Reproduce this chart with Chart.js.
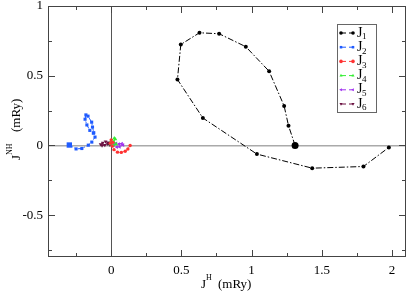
<!DOCTYPE html>
<html>
<head>
<meta charset="utf-8">
<script src="https://cdn.jsdelivr.net/npm/chart.js@4/dist/chart.umd.min.js"></script>
<style>
  html, body { margin: 0; padding: 0; background: #fff; }
  canvas { display: block; }
</style>
</head>
<body>
<canvas id="myChart" width="415" height="297"></canvas>
<script>
// series data (mRy)
var j1x = [1.31, 1.263, 1.232, 1.125, 0.959, 0.769, 0.629, 0.496, 0.472, 0.653, 1.038, 1.432, 1.797, 1.978];
var j1y = [0.0, 0.142, 0.283, 0.532, 0.708, 0.801, 0.808, 0.724, 0.473, 0.197, -0.062, -0.163, -0.151, -0.014];

var j2x = [-0.298, -0.25, -0.209, -0.163, -0.138, -0.115, -0.124, -0.133, -0.139, -0.165, -0.18, -0.186, -0.173, -0.152, -0.127];
var j2y = [0.003, -0.025, -0.022, 0.002, 0.024, 0.06, 0.091, 0.132, 0.167, 0.21, 0.219, 0.188, 0.147, 0.108, 0.088];

var j3x = [-0.005, 0.0, 0.012, 0.008, 0.02, 0.045, 0.072, 0.1, 0.119, 0.135];
var j3y = [0.015, 0.04, 0.022, -0.005, -0.03, -0.048, -0.05, -0.042, -0.025, 0.0];

var j4x = [0.018, 0.03, 0.022, 0.0, -0.004, 0.015, 0.035];
var j4y = [0.025, 0.045, 0.052, 0.035, 0.01, 0.0, 0.01];

var j5x = [0.02, 0.035, 0.055, 0.075, 0.085, 0.06, 0.04];
var j5y = [0.005, 0.015, 0.01, 0.012, 0.003, -0.01, -0.012];

var j6x = [-0.02, -0.04, -0.06, -0.075, -0.065, -0.045, -0.025, -0.01];
var j6y = [0.02, 0.028, 0.018, 0.008, 0.0, 0.003, 0.012, 0.005];

var labels = ['1', '2', '3', '4', '5', '6'];
var colors = ['#000000', '#1f5bff', '#ff3333', '#33ee33', '#a030f0', '#6a1040'];
var xTicks = [0, 0.5, 1, 1.5, 2];
var yTicks = [-0.5, 0, 0.5, 1];

function pts(xs, ys) {
  var out = [];
  for (var i = 0; i < xs.length; i++) out.push({ x: xs[i], y: ys[i] });
  return out;
}

var serif = '"Liberation Serif", "Times New Roman", serif';

function isMajor(v) {
  return Math.abs(v * 2 - Math.round(v * 2)) < 1e-6;
}

function bigFirst(r0, r) {
  return function (ctx) { return ctx.dataIndex === 0 ? r0 : r; };
}

var styles = [
  { style: 'circle', rot: 0, dash: [6, 2, 1.5, 2], r0: 3.5, r: 2 },
  { style: 'rect', rot: 0, dash: [4, 2, 1.5, 2], r0: 3.8, r: 2.2 },
  { style: 'circle', rot: 0, dash: [2.5, 2], r0: 1.8, r: 1.7 },
  { style: 'triangle', rot: 0, dash: [3, 2], r0: 2.4, r: 2.2 },
  { style: 'triangle', rot: -90, dash: [3, 2], r0: 2.4, r: 2.2 },
  { style: 'triangle', rot: 180, dash: [3, 2], r0: 2.4, r: 2.2 }
];

var series = [pts(j1x, j1y), pts(j2x, j2y), pts(j3x, j3y), pts(j4x, j4y), pts(j5x, j5y), pts(j6x, j6y)];

var datasets = series.map(function (d, i) {
  var s = styles[i];
  return {
    label: 'J' + labels[i],
    data: d,
    showLine: true,
    borderColor: colors[i],
    backgroundColor: colors[i],
    borderWidth: 1,
    borderDash: s.dash,
    pointStyle: s.style,
    rotation: s.rot,
    pointRadius: bigFirst(s.r0, s.r),
    pointBorderWidth: 0,
    tension: 0
  };
});

// frame, inward ticks, legend box and axis titles
var decorations = {
  id: 'decorations',
  afterDraw: function (chart) {
    var c = chart.ctx;
    var a = chart.chartArea;
    var xs = chart.scales.x, ys = chart.scales.y;
    c.save();
    c.strokeStyle = '#444';
    c.lineWidth = 1;
    c.strokeRect(a.left + 0.5, a.top + 0.5, a.right - a.left - 1, a.bottom - a.top - 1);

    c.beginPath();
    xs.ticks.forEach(function (t) {
      var v = t.value;
      var px = Math.round(xs.getPixelForValue(v)) + 0.5;
      var len = isMajor(v) ? 7 : 4;
      c.moveTo(px, a.bottom); c.lineTo(px, a.bottom - len);
      c.moveTo(px, a.top); c.lineTo(px, a.top + len);
    });
    ys.ticks.forEach(function (t) {
      var v = t.value;
      var py = Math.round(ys.getPixelForValue(v)) + 0.5;
      var len = isMajor(v) ? 7 : 4;
      c.moveTo(a.left, py); c.lineTo(a.left + len, py);
      c.moveTo(a.right, py); c.lineTo(a.right - len, py);
    });
    c.stroke();

    // legend
    var lx = 337, ly = 24, lw = 39, lh = 88;
    c.fillStyle = '#fff';
    c.fillRect(lx, ly, lw, lh);
    c.strokeStyle = '#666';
    c.strokeRect(lx + 0.5, ly + 0.5, lw, lh);
    chart.data.datasets.forEach(function (ds, i) {
      var y = 33 + i * 14.2;
      var s = styles[i];
      c.strokeStyle = colors[i];
      c.fillStyle = colors[i];
      c.lineWidth = 1;
      c.setLineDash([5, 3]);
      c.beginPath();
      c.moveTo(341, y); c.lineTo(353, y);
      c.stroke();
      c.setLineDash([]);
      Chart.helpers.drawPoint(c, { pointStyle: s.style, rotation: s.rot, radius: 1.8, borderWidth: 0 }, 341, y);
      Chart.helpers.drawPoint(c, { pointStyle: s.style, rotation: s.rot, radius: 1.8, borderWidth: 0 }, 353, y);
      c.fillStyle = '#000';
      c.textBaseline = 'middle';
      c.textAlign = 'left';
      c.font = '14px ' + serif;
      c.fillText('J', 357, y);
      c.font = '9px ' + serif;
      c.fillText(labels[i], 362, y + 4);
    });

    // x title
    c.fillStyle = '#000';
    c.textBaseline = 'alphabetic';
    c.textAlign = 'left';
    var bx = 201, by = 288;
    c.font = '13px ' + serif;
    c.fillText('J', bx, by);
    c.font = '8px ' + serif;
    c.fillText('H', bx + 5, by - 8);
    c.font = '13px ' + serif;
    c.fillText('(mRy)', 218, by);

    // y title
    c.translate(20, 132);
    c.rotate(-Math.PI / 2);
    c.font = '13px ' + serif;
    c.fillText('J', -28, 0);
    c.font = '8px ' + serif;
    c.fillText('NH', -23, -8);
    c.font = '13px ' + serif;
    c.fillText('(mRy)', 0, 0);
    c.restore();
  }
};

var myChart = new Chart(document.getElementById('myChart'), {
  type: 'scatter',
  data: { datasets: datasets },
  options: {
    responsive: false,
    animation: false,
    devicePixelRatio: 1,
    layout: { padding: { top: 6, right: 9, left: 0, bottom: 0 } },
    plugins: {
      legend: { display: false },
      tooltip: { enabled: false }
    },
    scales: {
      x: {
        type: 'linear',
        min: -0.45,
        max: 2.1,
        border: { display: false },
        grid: {
          drawTicks: false,
          color: function (ctx) { return ctx.tick && ctx.tick.value === 0 ? '#555' : 'rgba(0,0,0,0)'; },
          lineWidth: 1
        },
        ticks: {
          stepSize: 0.25,
          includeBounds: false,
          padding: 6,
          color: '#000',
          maxRotation: 0,
          autoSkip: false,
          font: { family: serif, size: 13 },
          callback: function (v) { var r = Math.round(v * 100) / 100; return xTicks.indexOf(r) >= 0 ? String(r) : ''; }
        },
        afterFit: function (s) { s.height = 40; s.paddingLeft = 0; s.paddingRight = 0; }
      },
      y: {
        type: 'linear',
        min: -0.8,
        max: 1,
        border: { display: false },
        grid: {
          drawTicks: false,
          color: function (ctx) { return ctx.tick && ctx.tick.value === 0 ? '#aaa' : 'rgba(0,0,0,0)'; },
          lineWidth: 1.5
        },
        ticks: {
          stepSize: 0.25,
          includeBounds: false,
          padding: 5,
          color: '#000',
          autoSkip: false,
          font: { family: serif, size: 13 },
          callback: function (v) { var r = Math.round(v * 100) / 100; return yTicks.indexOf(r) >= 0 ? String(r) : ''; }
        },
        afterFit: function (s) { s.width = 48; s.paddingTop = 0; s.paddingBottom = 0; }
      }
    }
  },
  plugins: [decorations]
});
</script>
</body>
</html>
